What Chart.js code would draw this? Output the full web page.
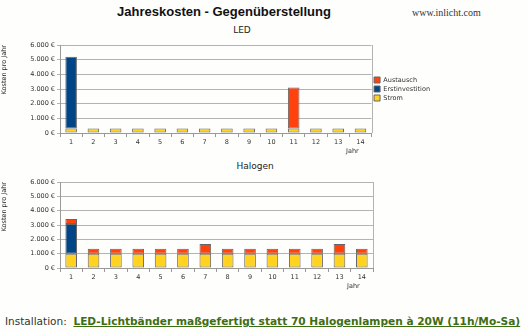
<!DOCTYPE html>
<html>
<head>
<meta charset="utf-8">
<script src="https://cdn.jsdelivr.net/npm/chart.js@4/dist/chart.umd.min.js"></script>
<style>
  body { margin: 0; width: 528px; height: 334px; background: #fefefc; position: relative; overflow: hidden; font-family: "DejaVu Sans", sans-serif; }
  .abs { position: absolute; white-space: nowrap; }
  #title { left: 0; width: 448px; top: 4px; text-align: center; font: bold 13px "Liberation Sans", Arial, sans-serif; color: #111; line-height: 16px; }
  #site { left: 412px; top: 7px; font: 10px "Liberation Serif", serif; color: #333; line-height: 12px; }
  .sub { font-size: 9px; color: #222; line-height: 10px; text-align: center; }
  .jahr { font-size: 6.5px; color: #333; line-height: 8px; }
  #foot { left: 5px; top: 315px; font-size: 10.5px; color: #333; line-height: 13px; }
  #foot b { color: #3e6e14; text-decoration: underline; font-size: 10.6px; }
  .box { position: absolute; left: 0; width: 528px; }
</style>
</head>
<body>
<div id="title" class="abs">Jahreskosten - Gegenüberstellung</div>
<div id="site" class="abs">www.inlicht.com</div>
<div class="abs sub" style="left:0;width:484px;top:25px;">LED</div>
<div class="abs sub" style="left:0;width:510px;top:161px;">Halogen</div>
<div class="box" style="top:38px;height:117px;"><canvas id="ledChart"></canvas></div>
<div class="box" style="top:175px;height:115px;"><canvas id="halChart"></canvas></div>
<div class="abs jahr" style="left:346px;top:147px;">Jahr</div>
<div class="abs jahr" style="left:347px;top:282px;">Jahr</div>
<div id="foot" class="abs">Installation:&nbsp; <b>LED-Lichtbänder maßgefertigt statt 70 Halogenlampen à 20W (11h/Mo-Sa)</b></div>

<script>
const years = ["1", "2", "3", "4", "5", "6", "7", "8", "9", "10", "11", "12", "13", "14"];
const yTicks = [0, 1000, 2000, 3000, 4000, 5000, 6000];

// LED
const ledStrom = [300, 300, 300, 300, 300, 300, 300, 300, 300, 300, 300, 300, 300, 300];
const ledErst = [4900, null, null, null, null, null, null, null, null, null, null, null, null, null];
const ledAustausch = [null, null, null, null, null, null, null, null, null, null, 2800, null, null, null];

// Halogen
const halStrom = [1000, 1000, 1000, 1000, 1000, 1000, 1000, 1000, 1000, 1000, 1000, 1000, 1000, 1000];
const halErst = [2070, null, null, null, null, null, null, null, null, null, null, null, null, null];
const halAustausch = [350, 340, 340, 340, 340, 340, 670, 340, 340, 340, 340, 340, 670, 340];

const fmt = (v) => String(v).replace(/\B(?=(\d{3})+(?!\d))/g, ".") + " €";
const small = { family: "DejaVu Sans", size: 6.5 };

const plotFrame = {
  id: "plotFrame",
  afterDraw(chart) {
    const { ctx, chartArea: a } = chart;
    ctx.save();
    ctx.strokeStyle = "#b3b3b3";
    ctx.lineWidth = 1;
    ctx.beginPath();
    ctx.moveTo(Math.round(a.right) + 0.5, a.top);
    ctx.lineTo(Math.round(a.right) + 0.5, a.bottom);
    ctx.stroke();
    ctx.restore();
  },
};

const makeSet = (label, data, color) => ({
  label,
  data,
  backgroundColor: color,
  borderColor: "#666",
  borderWidth: 1,
  borderSkipped: false,
  barPercentage: 1,
  categoryPercentage: 0.52,
});

function makeChart(id, strom, erst, aust, showLegend, padRight) {
  return new Chart(document.getElementById(id), {
    type: "bar",
    data: {
      labels: years,
      datasets: [
        makeSet("Strom", strom, "#ffd320"),
        makeSet("Erstinvestition", erst, "#004586"),
        makeSet("Austausch", aust, "#ff420e"),
      ],
    },
    options: {
      responsive: true,
      maintainAspectRatio: false,
      animation: false,
      layout: { padding: { top: 7, right: padRight, left: 0, bottom: 0 } },
      plugins: {
        tooltip: { enabled: false },
        legend: {
          display: showLegend,
          position: "right",
          fullSize: false,
          reverse: true,
          labels: { boxWidth: 6, boxHeight: 6, padding: 2.5, font: small, color: "#333" },
        },
      },
      scales: {
        x: {
          stacked: true,
          afterFit: (s) => { s.height = 22; },
          grid: { offset: true, drawOnChartArea: false, drawTicks: true, tickLength: 4, color: "#999" },
          border: { color: "#999" },
          ticks: { font: small, color: "#333", padding: 1, maxRotation: 0 },
        },
        y: {
          stacked: true,
          min: 0,
          max: 6000,
          afterFit: (s) => { s.width = 60; },
          afterBuildTicks: (s) => { s.ticks = yTicks.map((v) => ({ value: v })); },
          grid: { color: "#b3b3b3", tickLength: 3 },
          border: { color: "#999" },
          ticks: { font: small, color: "#333", padding: 2, callback: (v) => fmt(v) },
          title: { display: true, text: "Kosten pro Jahr", align: "end", font: small, color: "#222", padding: { top: 0, bottom: 4 } },
        },
      },
    },
    plugins: [plotFrame],
  });
}

makeChart("ledChart", ledStrom, ledErst, ledAustausch, true, 88);
makeChart("halChart", halStrom, halErst, halAustausch, false, 155);
</script>
</body>
</html>
